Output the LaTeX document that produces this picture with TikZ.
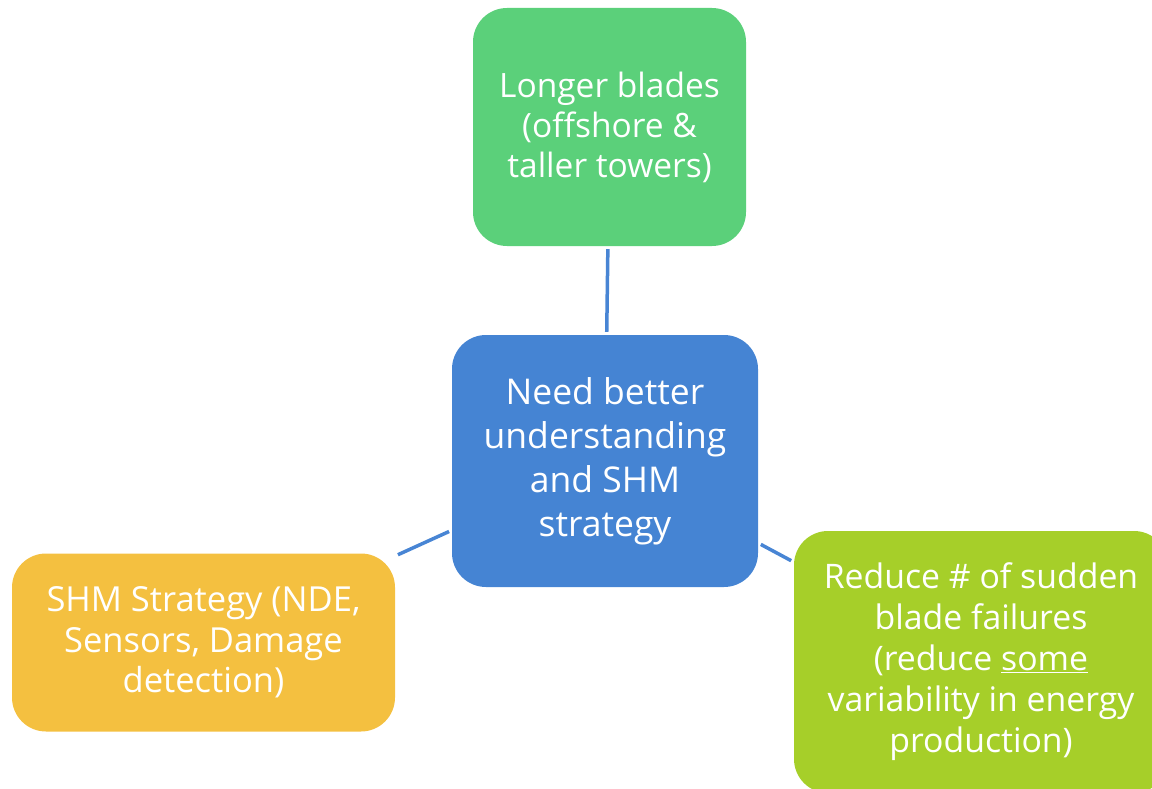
\documentclass[tikz,border=0pt]{standalone}
\usepackage{fontspec}
\setmainfont{Open Sans}
\definecolor{boxgreen}{RGB}{91,208,122}
\definecolor{boxblue}{RGB}{69,132,211}
\definecolor{boxorange}{RGB}{244,192,64}
\definecolor{boxlime}{RGB}{166,207,41}
\definecolor{linkblue}{RGB}{72,133,212}
\tikzset{
  card/.style={rounded corners=34pt, inner sep=0pt, align=center, text=white},
  link/.style={draw=linkblue, line width=3.5pt, shorten >=3pt, shorten <=3pt},
}
\begin{document}
\begin{tikzpicture}[x=1pt,y=-1pt]
  \useasboundingbox (0,0) rectangle (1152,789);
  \clip (0,0) rectangle (1152,789);
  % concept boxes
  \node[card, fill=boxgreen, minimum width=273pt, minimum height=238pt,
        font=\fontsize{33.5}{40}\selectfont] (blades) at (609.5,127)
        {Longer blades\\(offshore \&\\taller towers)};
  \node[card, fill=boxblue, minimum width=306pt, minimum height=252pt,
        font=\fontsize{35.5}{44}\selectfont] (need) at (605,461)
        {Need better\\understanding\\and SHM\\strategy};
  \node[card, fill=boxorange, minimum width=383pt, minimum height=178pt,
        font=\fontsize{34.5}{40.5}\selectfont] (shm) at (203.5,642.5)
        {SHM Strategy (NDE,\\Sensors, Damage\\detection)};
  \node[card, fill=boxlime, minimum width=374pt, minimum height=262pt,
        font=\fontsize{33.8}{41}\selectfont] (reduce) at (981,662)
        {Reduce \# of sudden\\blade failures\\(reduce \underline{some}\\variability in energy\\production)};
  % links from the central box
  \draw[link] (blades) -- (need);
  \draw[link] (need) -- (shm);
  \draw[link] (need) -- (reduce);
\end{tikzpicture}
\end{document}
